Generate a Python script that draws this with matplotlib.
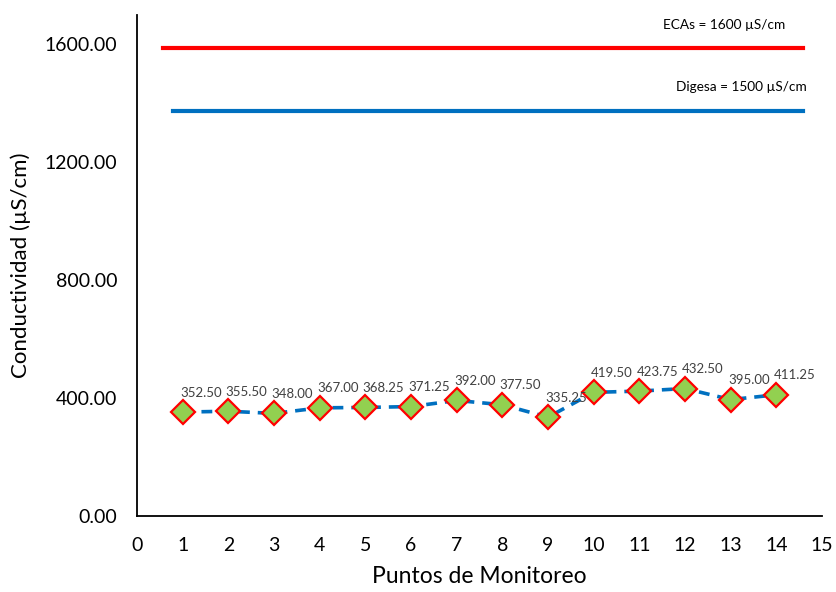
import matplotlib.pyplot as plt
from matplotlib.ticker import FormatStrFormatter

plt.rcParams['font.family'] = ['Lato', 'DejaVu Sans']

# conductividad por punto de monitoreo
puntos = [1, 2, 3, 4, 5, 6, 7, 8, 9, 10, 11, 12, 13, 14]
conductividad = [352.50, 355.50, 348.00, 367.00, 368.25, 371.25, 392.00,
                 377.50, 335.25, 419.50, 423.75, 432.50, 395.00, 411.25]

# estandares de calidad
ecas_valor = 1600
digesa_valor = 1500
ecas_x = [0.57, 14.58]
digesa_x = [0.79, 14.58]

fig = plt.figure(figsize=(8.36, 5.92), dpi=100)
ax = fig.add_axes([0.1639, 0.1284, 0.8194, 0.8463])

ax.plot(puntos, conductividad, color='#0070C0', lw=2.6, ls=(0, (3, 2.2)),
        marker='D', ms=12.5, mfc='#92D050', mec='#FF0000', mew=1.6, zorder=3)

for x, v in zip(puntos, conductividad):
    ax.annotate(f'{v:.2f}', (x, v), xytext=(13, 14), textcoords='offset points',
                ha='center', va='center', fontsize=9.5, color='#404040', zorder=4)

ax.set_xlim(0, 15)
ax.set_ylim(0, 1700)
ax.set_xticks(range(0, 16))
ax.set_yticks([0, 400, 800, 1200, 1600])
ax.yaxis.set_major_formatter(FormatStrFormatter('%.2f'))
ax.tick_params(axis='both', length=0, labelsize=14)
ax.tick_params(axis='x', pad=15)
ax.tick_params(axis='y', pad=14)
for s in ['top', 'right']:
    ax.spines[s].set_visible(False)
for s in ['left', 'bottom']:
    ax.spines[s].set_linewidth(1.3)
ax.set_xlabel('Puntos de Monitoreo', fontsize=16.5, labelpad=9)
ax.set_ylabel('Conductividad (µS/cm)', fontsize=16, labelpad=10)

# limites en un eje secundario oculto
ax2 = ax.twinx()
ax2.set_ylim(857, 1652)
ax2.axis('off')
ax2.plot(ecas_x, [ecas_valor] * 2, color='#FF0000', lw=3)
ax2.plot(digesa_x, [digesa_valor] * 2, color='#0070C0', lw=3)
ax2.annotate(f'ECAs = {ecas_valor} µS/cm', (14.19, ecas_valor), xytext=(0, 16.5),
             textcoords='offset points', ha='right', va='center', fontsize=9.8)
ax2.annotate(f'Digesa = {digesa_valor} µS/cm', (14.67, digesa_valor), xytext=(0, 17),
             textcoords='offset points', ha='right', va='center', fontsize=9.8)

fig.savefig('out.png', dpi=100)
